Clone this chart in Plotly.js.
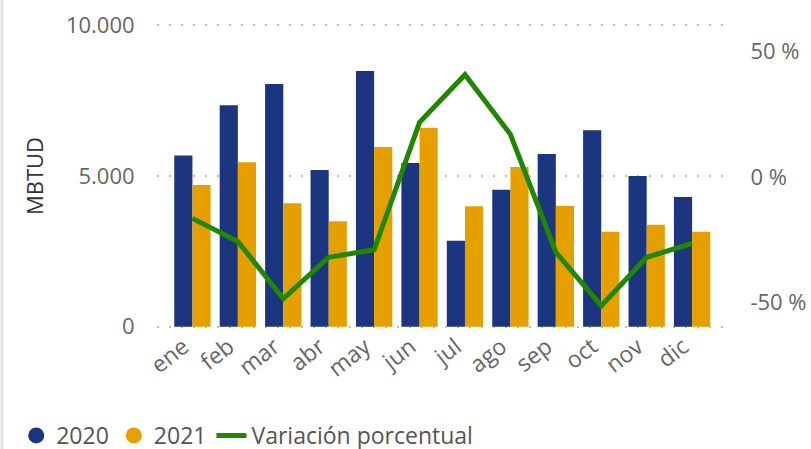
<!DOCTYPE html>
<html>
<head>
<meta charset="utf-8">
<script src="https://cdn.plot.ly/plotly-3.0.1.min.js"></script>
<style>
  html, body { margin: 0; padding: 0; background: #fff; }
  #chart { width: 811px; height: 449px; }
</style>
</head>
<body>
<div id="chart"></div>
<script>
var meses = ['ene', 'feb', 'mar', 'abr', 'may', 'jun', 'jul', 'ago', 'sep', 'oct', 'nov', 'dic'];
var valores2020 = [5680, 7350, 8050, 5200, 8480, 5430, 2850, 4540, 5730, 6520, 5000, 4300];
var valores2021 = [4700, 5460, 4100, 3500, 5960, 6600, 4000, 5300, 4010, 3150, 3380, 3150];
var variacion = [-16.5, -25.7, -48.5, -32, -29, 21.8, 40.8, 17, -30, -51.3, -32, -26.5];

var ticksIzq = [0, 5000, 10000];
var textoIzq = ['0', '5.000', '10.000'];
var ticksDer = [-50, 0, 50];
var textoDer = ['-50 %', '0 %', '50 %'];

var azul = '#1b367e';
var dorado = '#e5a000';
var verde = '#1f8700';
var fuente = 'Open Sans, Noto Sans, sans-serif';

var bar2020 = {
    x: meses,
    y: valores2020,
    name: '2020',
    type: 'bar',
    marker: { color: azul },
    showlegend: false,
    hoverinfo: 'y'
};

var bar2021 = {
    x: meses,
    y: valores2021,
    name: '2021',
    type: 'bar',
    marker: { color: dorado },
    showlegend: false,
    hoverinfo: 'y'
};

var linea = {
    x: meses,
    y: variacion,
    name: 'Variación porcentual',
    type: 'scatter',
    mode: 'lines',
    yaxis: 'y2',
    line: { color: verde, width: 5 }
};

// legend-only entries so the bar swatches are circles like the original
var ley2020 = {
    x: [null], y: [null], name: '2020', type: 'scatter', mode: 'markers',
    marker: { color: azul, size: 19, symbol: 'circle' }
};
var ley2021 = {
    x: [null], y: [null], name: '2021', type: 'scatter', mode: 'markers',
    marker: { color: dorado, size: 19, symbol: 'circle' }
};

var data = [bar2020, bar2021, ley2020, ley2021, linea];

var layout = {
    width: 811,
    height: 449,
    margin: { l: 157, r: 88, t: 24, b: 121 },
    paper_bgcolor: '#fff',
    plot_bgcolor: '#fff',
    font: { family: fuente, size: 20, color: '#666' },
    barmode: 'group',
    bargap: 0.2,
    bargroupgap: 0,
    xaxis: {
        type: 'category',
        range: [-0.78, 11.68],
        tickangle: -38,
        ticklabelshift: -9,
        showgrid: false,
        zeroline: false,
        showline: false,
        ticks: '',
        tickfont: { size: 23, color: '#666' }
    },
    yaxis: {
        range: [-40, 10040],
        tickvals: ticksIzq,
        ticktext: textoIzq,
        showgrid: true,
        gridcolor: '#bdbdbd',
        griddash: '2px,10px',
        gridwidth: 2,
        zeroline: false,
        ticks: 'outside',
        ticklen: 17,
        tickcolor: 'rgba(0,0,0,0)',
        tickfont: { size: 22, color: '#666' },
        title: {
            text: 'MBTUD',
            font: { size: 22, color: '#333' },
            standoff: 16
        }
    },
    yaxis2: {
        overlaying: 'y',
        side: 'right',
        range: [-60.2, 61.0],
        tickvals: ticksDer,
        ticktext: textoDer,
        showgrid: false,
        zeroline: false,
        ticks: 'outside',
        ticklen: 22,
        tickcolor: 'rgba(0,0,0,0)',
        tickfont: { size: 22, color: '#666' }
    },
    legend: {
        orientation: 'h',
        xref: 'container',
        yref: 'container',
        x: 0.02,
        xanchor: 'left',
        y: 0.078,
        yanchor: 'top',
        font: { size: 23, color: '#555' },
        tracegroupgap: 0,
        itemwidth: 30
    },
    shapes: [{
        type: 'line', xref: 'paper', yref: 'paper',
        x0: -0.274, x1: -0.274, y0: -0.6, y1: 1.2,
        line: { color: '#e3e3e3', width: 3 }
    }],
    showlegend: true
};

Plotly.newPlot('chart', data, layout, { displayModeBar: false, responsive: false });
</script>
</body>
</html>
